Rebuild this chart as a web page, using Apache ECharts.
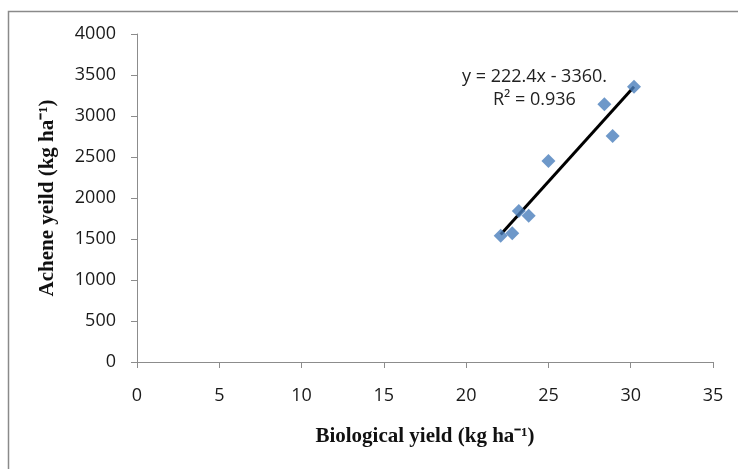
<!DOCTYPE html>
<html>
<head>
<meta charset="utf-8">
<script src="https://cdn.jsdelivr.net/npm/echarts@6/dist/echarts.min.js"></script>
<style>html,body{margin:0;padding:0;background:#fff}#c{width:738px;height:469px}</style>
</head>
<body>
<div id="c"></div>
<script>
var biologicalYield = [30.2, 28.4, 28.9, 25.0, 23.8, 23.2, 22.8, 22.1];
var acheneYield = [3357, 3143, 2756, 2451, 1784, 1841, 1570, 1540];
var trendX = [22.1, 30.2];
var trendY = [1555, 3357];
var equationText = 'y = 222.4x - 3360.';
var r2Text = 'R² = 0.936';

var chart = echarts.init(document.getElementById('c'), null, {renderer: 'canvas'});
var pts = biologicalYield.map(function (x, i) { return [x, acheneYield[i]]; });
var trend = trendX.map(function (x, i) { return [x, trendY[i]]; });
var tickFont = {fontFamily: 'Open Sans', fontSize: 18, color: '#1a1a1a'};
chart.setOption({
  backgroundColor: '#fff',
  animation: false,
  grid: {left: 137, right: 25, top: 34, bottom: 107},
  xAxis: {
    type: 'value', min: 0, max: 35, interval: 5,
    axisLine: {show: true, onZero: false, lineStyle: {color: '#8c8c8c', width: 1}},
    axisTick: {show: true, inside: false, length: 6, lineStyle: {color: '#8c8c8c'}},
    splitLine: {show: false},
    axisLabel: Object.assign({margin: 25, formatter: function (v) { return String(v); }}, tickFont),
    name: 'Biological yield (kg ha⁻¹)',
    nameLocation: 'middle', nameGap: 64,
    nameTextStyle: {fontFamily: 'Liberation Serif', fontWeight: 'bold', fontSize: 21, color: '#111'}
  },
  yAxis: {
    type: 'value', min: 0, max: 4000, interval: 500,
    axisLine: {show: true, onZero: false, lineStyle: {color: '#8c8c8c', width: 1}},
    axisTick: {show: true, inside: false, length: 6, lineStyle: {color: '#8c8c8c'}},
    splitLine: {show: false},
    axisLabel: Object.assign({margin: 21, formatter: function (v) { return String(v); }}, tickFont),
    name: 'Achene yeild (kg ha⁻¹)',
    nameLocation: 'middle', nameGap: 79,
    nameTextStyle: {fontFamily: 'Liberation Serif', fontWeight: 'bold', fontSize: 21, color: '#111'}
  },
  series: [
    {
      type: 'line', data: trend, symbol: 'none', z: 3,
      lineStyle: {color: '#000', width: 3}
    },
    {
      type: 'scatter', data: pts, symbol: 'diamond', symbolSize: 14, z: 4,
      itemStyle: {color: '#4a7ebb'}
    }
  ],
  graphic: [
    {type: 'rect', shape: {x: 8.5, y: 11.5, width: 800, height: 600}, style: {fill: 'none', stroke: '#8a8a8a', lineWidth: 1.5}, silent: true, z: -1},
    {type: 'text', left: 462, top: 68, style: {text: equationText, font: '18px "Open Sans"', fill: '#222'}},
    {type: 'text', left: 493, top: 91, style: {text: r2Text, font: '18px "Open Sans"', fill: '#222'}}
  ]
});
</script>
</body>
</html>
